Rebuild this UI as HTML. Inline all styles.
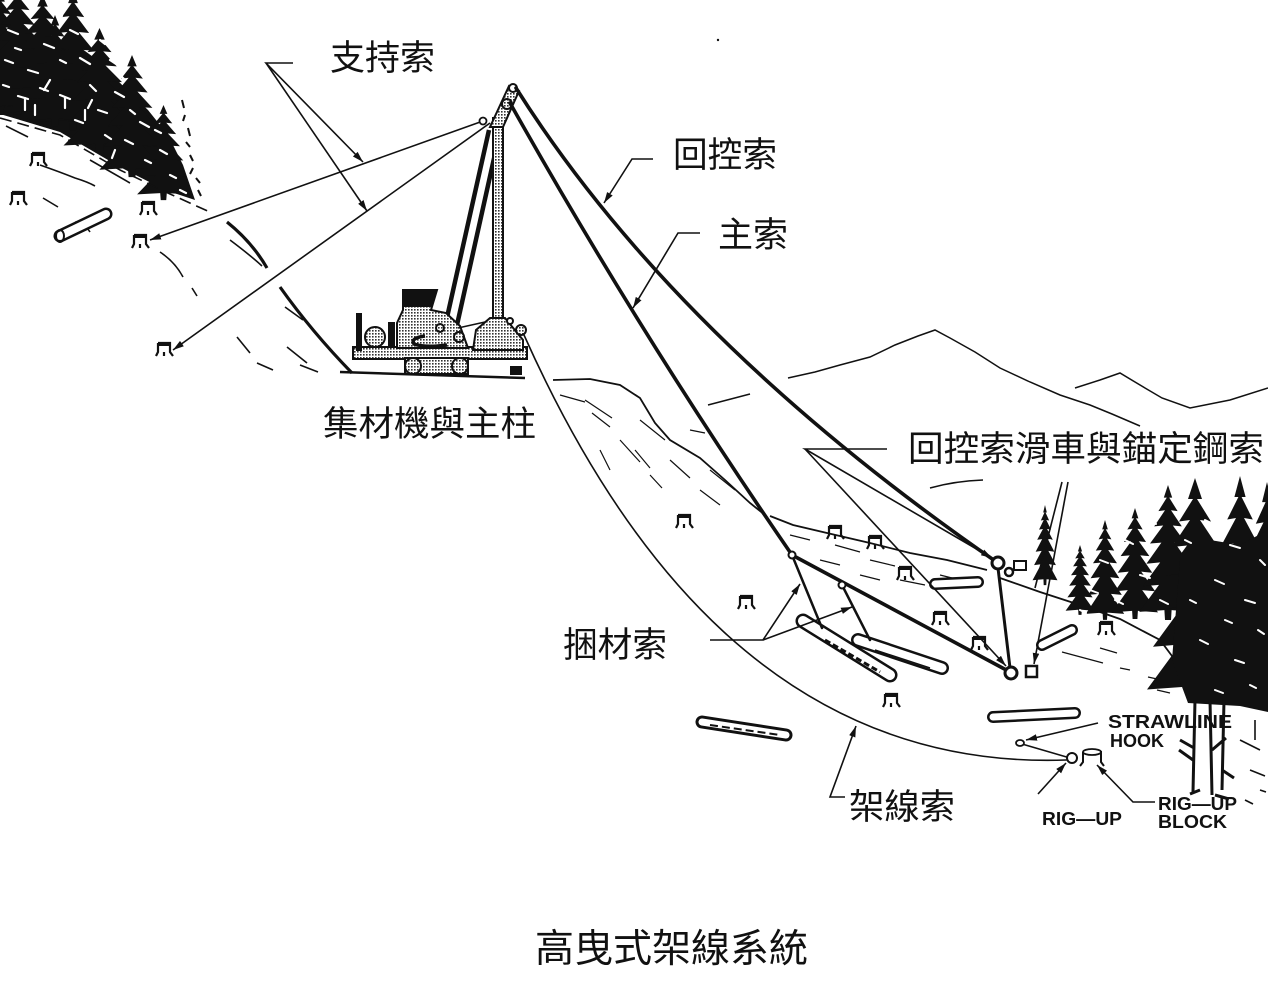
<!DOCTYPE html>
<html><head><meta charset="utf-8">
<style>
html,body{margin:0;padding:0;background:#fff;}
svg{display:block}
.cj{font-family:"Liberation Sans","Noto Sans CJK TC","Noto Sans CJK SC",sans-serif;font-size:35px;fill:#111}
.en{font-family:"Liberation Sans",sans-serif;font-weight:bold;font-size:18px;fill:#111}
</style></head><body>
<svg width="1268" height="989" viewBox="0 0 1268 989" xmlns="http://www.w3.org/2000/svg">
<defs>
<pattern id="st" width="3" height="3" patternUnits="userSpaceOnUse"><rect width="3" height="3" fill="#fff"/><rect width="1.6" height="1.6" fill="#333"/></pattern>
<path id="tree" d="M50 0 L57 28 L52 28 L66 58 L55 56 L73 92 L58 90 L80 130 L61 128 L86 175 L63 172 L92 225 L65 222 L98 282 L56 278 L55 300 L45 300 L44 278 L2 282 L35 222 L8 225 L37 172 L14 175 L39 128 L20 130 L42 90 L27 92 L45 56 L34 58 L48 28 L43 28 Z"/>
<g id="stump"><path d="M1 0 h12 v9 l3 4 M1 0 v9 l-2 4 M7 9 v4" fill="none" stroke="#111" stroke-width="2.2"/><path d="M1 0 h12 v3 h-12z" fill="#111"/></g>
<marker id="ah" markerWidth="11" markerHeight="11" refX="10" refY="5" orient="auto" markerUnits="userSpaceOnUse" viewBox="0 0 10 10"><path d="M0 2 L10 5 L0 8 Z" fill="#111"/></marker>
</defs>

<!-- ===== top-left forest ===== -->
<g fill="#111">
<path d="M0 28 L20 34 L45 45 L70 40 L100 62 L125 88 L148 110 L168 135 L183 165 L195 200 L165 190 L120 167 L60 132 L0 114 Z"/>
<use href="#tree" transform="translate(-35,-10) scale(.7,.4167)"/>
<use href="#tree" transform="translate(-20,-15) scale(.75,.433)"/>
<use href="#tree" transform="translate(5,-5) scale(.75,.4167)"/>
<use href="#tree" transform="translate(38,-10) scale(.7,.467)"/>
<use href="#tree" transform="translate(25,15) scale(.6,.373)"/>
<use href="#tree" transform="translate(62,28) scale(.75,.4167)"/>
<use href="#tree" transform="translate(98,55) scale(.68,.407)"/>
<use href="#tree" transform="translate(136,105) scale(.55,.317)"/>
</g>
<g stroke="#fff" stroke-width="2.2" fill="none" stroke-linecap="round">
<path d="M8 30 l10 4 M44 44 l10 4 M28 70 l10 3 M80 58 l10 6 M115 92 l9 5 M60 95 l10 4 M140 122 l9 5 M98 110 l9 3 M18 96 l10 3 M70 30 l8 4 M50 80 l-6 10 M90 85 l6 6 M125 140 l8 4 M160 150 l7 4 M5 60 l8 3 M110 60 l6 4 M150 100 l6 3 M35 105 v10 M85 110 v10"/>
<path d="M55 12 l7 4 M15 48 l6 2 M60 60 l6 3 M100 40 l5 4 M40 88 l8 3 M75 120 l8 3 M105 135 l6 4 M130 110 l5 4 M170 175 l6 3 M155 130 l6 3 M120 75 l5 5 M92 100 l-4 8 M25 110 v-12 M65 108 v-10 M115 150 l-3 8 M145 160 l6 3 M180 190 l6 3 M3 85 l6 2"/>
</g>
<g stroke="#111" stroke-width="2" fill="none">
<path d="M182 100 l2 8 M185 115 l-2 6 M188 128 l2 8 M186 142 l4 5 M190 155 l3 6 M193 168 l-3 6 M196 178 l4 5 M198 190 l3 6"/>
</g>
<!-- slope lines top-left -->
<g stroke="#111" stroke-width="1.6" fill="none">
<path d="M0 118 L60 135 L120 170 L170 194 L212 213" stroke-dasharray="12 6"/>
<path d="M6 126 L28 137"/>
<path d="M90 160 L130 183"/>
<path d="M40 165 Q60 172 75 178 Q88 182 95 186"/>
<path d="M43 198 L58 207"/>
<path d="M230 240 Q250 255 262 266"/>
<path d="M160 252 Q175 262 183 277"/>
<path d="M192 288 L197 296"/>
<path d="M285 307 L303 320"/>
<path d="M287 347 L307 363"/>
<path d="M237 337 L250 353"/>
<path d="M257 363 L273 370"/>
<path d="M300 365 L318 372"/>
<path d="M75 222 Q85 224 90 232"/>
</g>
<path d="M227 222 Q252 242 267 268" stroke="#111" stroke-width="3.2" fill="none"/>
<path d="M280 287 Q312 332 352 373" stroke="#111" stroke-width="3.2" fill="none"/>
<path d="M340 372 L525 378" stroke="#111" stroke-width="2.5" fill="none"/>

<!-- stumps -->
<use href="#stump" x="31" y="153"/>
<use href="#stump" x="11" y="192"/>
<use href="#stump" x="141" y="202"/>
<use href="#stump" x="133" y="235"/>
<use href="#stump" x="157" y="343"/>
<use href="#stump" x="677" y="515"/>
<use href="#stump" x="739" y="596"/>
<use href="#stump" x="884" y="694"/>
<use href="#stump" x="828" y="526"/>
<use href="#stump" x="868" y="536"/>
<use href="#stump" x="898" y="567"/>
<use href="#stump" x="933" y="612"/>
<use href="#stump" x="972" y="637"/>
<use href="#stump" x="1099" y="622"/>

<!-- log top-left -->
<g>
<line x1="60" y1="236" x2="106" y2="214" stroke="#111" stroke-width="13" stroke-linecap="round"/>
<line x1="60" y1="236" x2="106" y2="214" stroke="#fff" stroke-width="8" stroke-linecap="round"/>
<ellipse cx="60" cy="236" rx="4" ry="6" fill="none" stroke="#111" stroke-width="2"/>
</g>

<!-- guy lines -->
<g stroke="#111" stroke-width="1.6" fill="none">
<line x1="483" y1="121" x2="150" y2="240" marker-end="url(#ah)"/>
<line x1="490" y1="123" x2="173" y2="350" marker-end="url(#ah)"/>
</g>

<!-- mountains background -->
<g stroke="#111" stroke-width="1.5" fill="none">
<path d="M788 378 L815 372 L840 365 L870 357 L895 345 L918 336 L935 330 L950 338 L975 352 L1000 368 L1030 382 L1060 395 L1090 405 L1112 414 L1140 426"/>
<path d="M1075 388 L1100 380 L1120 373 L1145 388 L1162 398 L1190 408 L1230 400 L1268 388"/>
<path d="M708 405 L750 394"/>
<path d="M930 488 Q955 481 983 480"/>
</g>

<!-- mound ridge -->
<g stroke="#111" stroke-width="1.8" fill="none">
<path d="M553 380 L590 379 L620 385 L640 398 L655 423 L670 440 L700 458 L725 480 L750 503 L765 515"/>
<path d="M770 516 L793 525 L827 533 L870 543 L910 553 L947 560 L987 570"/>
<path d="M1000 578 L1040 592 L1080 605 L1120 619 L1160 640 L1175 660"/>
</g>
<g stroke="#111" stroke-width="1.2" fill="none">
<path d="M592 413 L610 427 M585 400 Q600 410 612 418 M620 440 L640 462 M640 420 L665 440 M650 475 L662 488 M600 450 L610 470 M560 395 L585 402 M670 460 L690 478 M700 490 L720 505 M690 430 L705 433 M635 450 L650 468 M710 470 L735 490"/>
<path d="M790 535 L810 540 M835 545 L860 552 M870 560 L895 566 M820 560 L840 565 M900 580 L925 585 M940 575 L960 580 M860 575 L880 580"/>
<path d="M1062 652 L1103 663 M1100 648 L1117 653 M1120 668 L1130 670 M1148 677 L1157 679 M1157 690 L1170 693"/>
</g>

<!-- right forest -->
<g fill="#111">
<use href="#tree" transform="translate(1032,505) scale(.26,.267)"/>
<use href="#tree" transform="translate(1065,545) scale(.3,.233)"/>
<use href="#tree" transform="translate(1085,520) scale(.4,.333)"/>
<use href="#tree" transform="translate(1111,508) scale(.48,.37)"/>
<use href="#tree" transform="translate(1138,485) scale(.6,.45)"/>
<use href="#tree" transform="translate(1145,478) scale(1,.75)"/>
<use href="#tree" transform="translate(1200,476) scale(.8,.75)"/>
<use href="#tree" transform="translate(1232,482) scale(.7,.72)"/>
<path d="M1180 560 L1210 540 L1240 545 L1268 530 L1268 712 L1240 706 L1188 703 L1172 660 Z"/>
</g>
<g stroke="#fff" stroke-width="2" fill="none" stroke-linecap="round">
<path d="M1100 560 l8 3 M1125 540 l8 4 M1140 575 l10 3 M1090 590 l8 3 M1115 600 l8 4 M1060 580 l6 4 M1050 540 l6 3 M1150 520 l6 4 M1160 600 l8 4 M1080 610 l6 3"/>
<path d="M1205 520 l8 4 M1230 545 l10 3 M1250 510 l8 5 M1215 580 l9 4 M1245 600 l10 3 M1200 640 l8 4 M1235 660 l9 3 M1258 630 l6 4 M1215 690 l8 3 M1250 685 l6 3 M1190 600 l6 3 M1260 560 l5 5 M1185 540 l6 3 M1225 620 l7 3"/>
</g>
<g stroke="#111" stroke-width="3" fill="none">
<path d="M1195 700 L1193 792 M1210 700 L1212 795 M1224 700 L1222 790 M1193 760 l-14 -10 M1212 750 l14 -12 M1222 770 l12 8 M1180 740 l14 8 M1200 790 l-10 4 M1215 795 l14 4"/>
</g>
<g stroke="#111" stroke-width="1.6" fill="none">
<path d="M1240 740 l20 10 M1250 770 l15 6 M1255 720 v20 M1245 800 l8 4 M1260 790 l6 2"/>
</g>

<!-- logs -->
<g>
<line x1="803" y1="621" x2="890" y2="675" stroke="#111" stroke-width="15" stroke-linecap="round"/>
<line x1="803" y1="621" x2="890" y2="675" stroke="#fff" stroke-width="10" stroke-linecap="round"/>
<path d="M825 640 L880 672" stroke="#111" stroke-width="3" stroke-dasharray="6 3"/>
<line x1="858" y1="640" x2="942" y2="668" stroke="#111" stroke-width="14" stroke-linecap="round"/>
<line x1="858" y1="640" x2="942" y2="668" stroke="#fff" stroke-width="9" stroke-linecap="round"/>
<path d="M875 650 L930 668" stroke="#111" stroke-width="1.5"/>
<line x1="935" y1="584" x2="978" y2="582" stroke="#111" stroke-width="12" stroke-linecap="round"/>
<line x1="935" y1="584" x2="978" y2="582" stroke="#fff" stroke-width="7" stroke-linecap="round"/>
<line x1="1042" y1="645" x2="1072" y2="630" stroke="#111" stroke-width="12" stroke-linecap="round"/>
<line x1="1042" y1="645" x2="1072" y2="630" stroke="#fff" stroke-width="7" stroke-linecap="round"/>
<line x1="993" y1="717" x2="1075" y2="713" stroke="#111" stroke-width="12" stroke-linecap="round"/>
<line x1="993" y1="717" x2="1075" y2="713" stroke="#fff" stroke-width="7" stroke-linecap="round"/>
<line x1="702" y1="722" x2="786" y2="735" stroke="#111" stroke-width="13" stroke-linecap="round"/>
<line x1="702" y1="722" x2="786" y2="735" stroke="#fff" stroke-width="7" stroke-linecap="round"/>
<path d="M710 725 L780 735" stroke="#111" stroke-width="2" stroke-dasharray="8 4"/>
</g>

<!-- yarder -->
<g stroke="#111" stroke-width="2" fill="url(#st)">
<line x1="446" y1="322" x2="489" y2="130" stroke-width="4.5"/>
<line x1="457" y1="325" x2="497" y2="145" stroke-width="4.5"/>
<rect x="493" y="118" width="10" height="205"/>
<path d="M490 127 L509 86 L519 91 L503 127 Z"/>
<rect x="353" y="347" width="174" height="12"/>
<path d="M397 348 L397 323 L403 310 L403 290 L437 290 L431 310 L446 313 L460 326 L468 348 Z"/>
<path d="M473 350 L476 330 L490 318 L505 318 L523 340 L523 350 Z"/>
<rect x="405" y="358" width="63" height="16"/>
<circle cx="413" cy="366" r="8"/>
<circle cx="460" cy="366" r="8"/>
<circle cx="375" cy="337" r="10"/>
<circle cx="440" cy="328" r="4"/>
<circle cx="459" cy="337" r="5"/>
<circle cx="510" cy="321" r="3" fill="#fff"/>
<circle cx="521" cy="330" r="5"/>
</g>
<g fill="#111">
<path d="M403 290 L437 290 L432 307 L403 307 Z"/>
<rect x="356" y="313" width="6" height="38"/>
<rect x="388" y="322" width="7" height="26"/>
<rect x="510" y="366" width="12" height="9"/>
</g>
<path d="M425 336 Q410 338 414 344 Q425 348 447 345" stroke="#111" stroke-width="3.5" fill="none"/>
<line x1="458" y1="328" x2="485" y2="322" stroke="#111" stroke-width="1.5"/>
<circle cx="513" cy="88" r="4" fill="#fff" stroke="#111" stroke-width="2"/>
<circle cx="507" cy="104" r="5" fill="url(#st)" stroke="#111" stroke-width="2"/>
<circle cx="483" cy="121" r="3.5" fill="#fff" stroke="#111" stroke-width="1.8"/>

<!-- main cables -->
<g stroke="#111" fill="none" stroke-linecap="round">
<path d="M516 88 Q675 340 998 563" stroke-width="3.6"/>
<path d="M510 103 Q641 336 792 555" stroke-width="3.6"/>
<path d="M792 555 L1010 672" stroke-width="3.6"/>
<path d="M998 568 L1010 668" stroke-width="3"/>
<path d="M792 555 L822 628" stroke-width="2.5"/>
<path d="M842 585 L870 640" stroke-width="2.5"/>
<path d="M524 335 C620 550 780 770 1066 760" stroke-width="1.6"/>
<path d="M1022 744 L1070 758" stroke-width="1.6"/>
</g>
<circle cx="998" cy="563" r="6" fill="#fff" stroke="#111" stroke-width="3"/>
<circle cx="1009" cy="572" r="4" fill="#fff" stroke="#111" stroke-width="2.5"/>
<rect x="1014" y="561" width="12" height="9" fill="#fff" stroke="#111" stroke-width="2"/>
<circle cx="1011" cy="673" r="6" fill="#fff" stroke="#111" stroke-width="3"/>
<rect x="1026" y="666" width="11" height="11" fill="#fff" stroke="#111" stroke-width="2.5"/>
<circle cx="792" cy="555" r="3.5" fill="#fff" stroke="#111" stroke-width="2"/>
<circle cx="842" cy="585" r="3.5" fill="#fff" stroke="#111" stroke-width="2"/>
<ellipse cx="1020" cy="743" rx="4" ry="3" fill="#fff" stroke="#111" stroke-width="1.8"/>
<circle cx="1072" cy="758" r="5" fill="#fff" stroke="#111" stroke-width="2"/>
<path d="M1083 752 h18 v10 l3 4 M1083 752 v10 l-3 4" fill="none" stroke="#111" stroke-width="2"/>
<ellipse cx="1092" cy="752" rx="9" ry="3" fill="#fff" stroke="#111" stroke-width="1.8"/>

<!-- pointer lines -->
<g stroke="#111" stroke-width="1.6" fill="none">
<path d="M293 63 L266 63 L363 162" marker-end="url(#ah)"/>
<path d="M266 63 L367 211" marker-end="url(#ah)"/>
<path d="M653 159 L632 159 L604 203" marker-end="url(#ah)"/>
<path d="M700 233 L678 233 L633 308" marker-end="url(#ah)"/>
<path d="M887 449 L805 449 L992 558" marker-end="url(#ah)"/>
<path d="M805 449 L1006 666" marker-end="url(#ah)"/>
<path d="M1062 482 L1035 588"/>
<path d="M1068 482 L1034 664" marker-end="url(#ah)"/>
<path d="M710 640 L763 640 L800 584" marker-end="url(#ah)"/>
<path d="M763 640 L852 607" marker-end="url(#ah)"/>
<path d="M845 797 L830 797 L856 726" marker-end="url(#ah)"/>
<path d="M1098 723 L1026 740" marker-end="url(#ah)"/>
<path d="M1038 794 L1066 763" marker-end="url(#ah)"/>
<path d="M1155 802 L1133 802 L1097 765" marker-end="url(#ah)"/>
</g>
<circle cx="718" cy="40" r="1.2" fill="#111"/>

<!-- labels -->
<text class="cj" x="330" y="70" textLength="105" lengthAdjust="spacingAndGlyphs">支持索</text>
<text class="cj" x="673" y="167" textLength="104" lengthAdjust="spacingAndGlyphs">回控索</text>
<text class="cj" x="718" y="247" textLength="70" lengthAdjust="spacingAndGlyphs">主索</text>
<text class="cj" x="323" y="436" textLength="213" lengthAdjust="spacingAndGlyphs">集材機與主柱</text>
<text class="cj" x="908" y="461" textLength="356" lengthAdjust="spacingAndGlyphs">回控索滑車與錨定鋼索</text>
<text class="cj" x="563" y="657" textLength="104" lengthAdjust="spacingAndGlyphs">捆材索</text>
<text class="cj" x="849" y="819" textLength="106" lengthAdjust="spacingAndGlyphs">架線索</text>
<text class="cj" x="535" y="962" style="font-size:39px" textLength="273" lengthAdjust="spacingAndGlyphs">高曳式架線系統</text>

<text class="en" x="1108" y="728" textLength="124" lengthAdjust="spacingAndGlyphs">STRAWLINE</text>
<text class="en" x="1110" y="747" textLength="54" lengthAdjust="spacingAndGlyphs">HOOK</text>
<text class="en" x="1042" y="825" textLength="80" lengthAdjust="spacingAndGlyphs">RIG—UP</text>
<text class="en" x="1158" y="810" textLength="79" lengthAdjust="spacingAndGlyphs">RIG—UP</text>
<text class="en" x="1158" y="828" textLength="69" lengthAdjust="spacingAndGlyphs">BLOCK</text>
</svg>
</body></html>
